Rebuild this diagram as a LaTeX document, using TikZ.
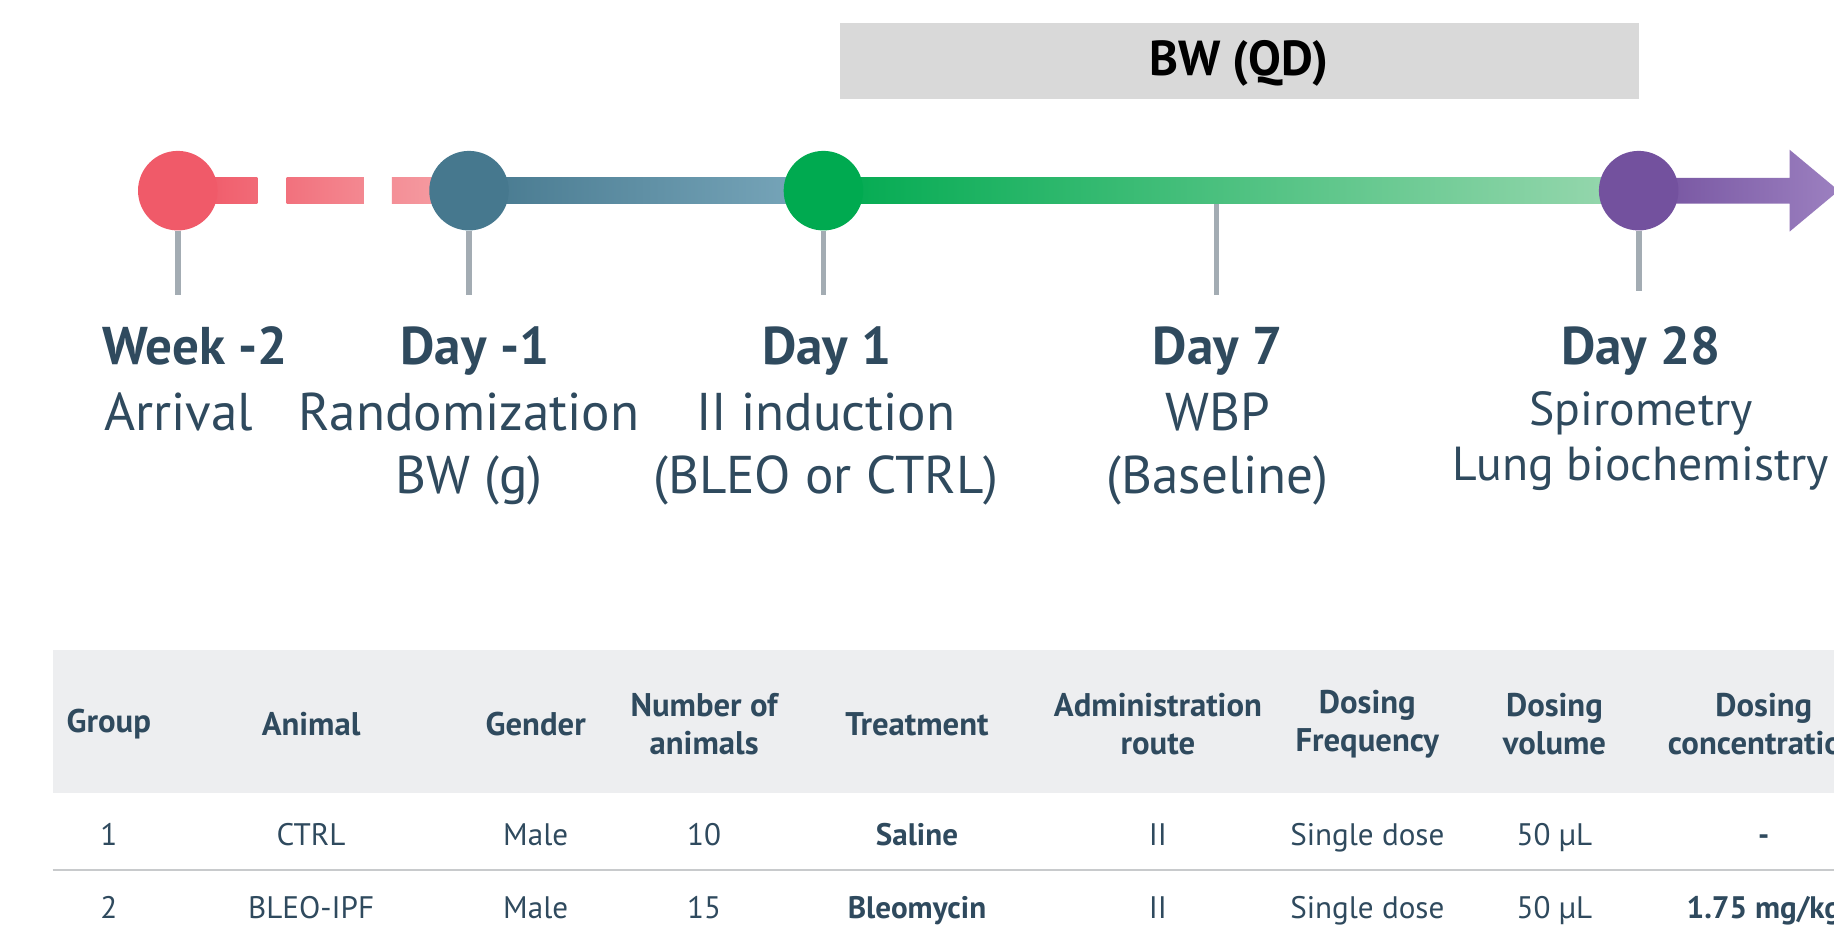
\documentclass[tikz,border=0pt]{standalone}
\usepackage{fontspec}
\setmainfont{PT Sans}
\usetikzlibrary{positioning}

\begin{document}
\begin{tikzpicture}[x=0.5pt, y=-0.5pt, % one unit = one pixel of the layout, y grows downwards
    dot/.style={circle, minimum size=34pt, inner sep=0pt},
    stem/.style={draw=stemgray, line width=2.5pt},
    daytitle/.style={font=\fontsize{22.7}{27}\selectfont\bfseries, text=ink, anchor=base},
    daytext/.style={font=\fontsize{22.7}{27}\selectfont, text=ink, anchor=base},
    smalltext/.style={daytext, font=\fontsize{20.4}{24}\selectfont},
    headcell/.style={font=\fontsize{14}{16.5}\selectfont\bfseries, text=ink, align=center},
    cell/.style={font=\fontsize{13.3}{16}\selectfont, text=ink, anchor=base}]
    % Define colors
    \definecolor{ink}{HTML}{2F4A5E}
    \definecolor{stemgray}{HTML}{A3ACB3}
    \definecolor{boxgray}{HTML}{D9D9D9}
    \definecolor{headgray}{HTML}{EDEEF0}
    \definecolor{rulegray}{HTML}{C8CACC}
    \definecolor{redDot}{HTML}{F05A69}
    \definecolor{redEnd}{HTML}{F59CA2}
    \definecolor{tealDot}{HTML}{46788E}
    \definecolor{tealEnd}{HTML}{7AA8BC}
    \definecolor{greenDot}{HTML}{00AA50}
    \definecolor{greenEnd}{HTML}{9AD8B0}
    \definecolor{purpleDot}{HTML}{73519E}
    \definecolor{purpleEnd}{HTML}{9C80C0}

    % Page frame and crop
    \clip (0,0) rectangle (1568,800);
    \fill[white] (0,0) rectangle (1568,800);

    % BW box on top
    \fill[boxgray] (718,20) rectangle (1401,85);
    \node[font=\fontsize{21}{24}\selectfont\bfseries, text=black] (bw) at (1059,54) {BW (QD)};

    % Dashed red part of the timeline
    \shade[left color=redDot, right color=redDot!75!redEnd] (170,152) rectangle (220,174);
    \shade[left color=redDot!65!redEnd, right color=redDot!30!redEnd] (245,152) rectangle (311,174);
    \shade[left color=redDot!20!redEnd, right color=redEnd] (335,152) rectangle (380,174);

    % Solid parts of the timeline
    \shade[left color=tealDot, right color=tealEnd] (401,152) rectangle (704,174);
    \shade[left color=greenDot, right color=greenEnd] (704,152) rectangle (1401,174);
    \shade[left color=purpleDot, right color=purpleEnd]
        (1401,152) -- (1530,152) -- (1530,128) -- (1572,163) -- (1530,198) -- (1530,174) -- (1401,174) -- cycle;

    % Milestones
    \node[dot, fill=redDot] (wk2) at (152,163) {};
    \node[dot, fill=tealDot] (dm1) at (401,163) {};
    \node[dot, fill=greenDot] (d1) at (704,163) {};
    \node[dot, fill=purpleDot] (d28) at (1401,163) {};
    \coordinate (d7) at (1040,174);

    % Stems under the milestones
    \foreach \n/\len in {wk2/55, dm1/55, d1/55, d7/78, d28/51} {
            \draw[stem] (\n.south) -- ++(0,\len);
        }

    % Milestone labels
    \node[daytitle] (t1) at (167,312) {Week -2};
    \node[daytitle] (t2) at (406,312) {Day -1};
    \node[daytitle] (t3) at (707,312) {Day 1};
    \node[daytitle] (t4) at (1041,312) {Day 7};
    \node[daytitle] (t5) at (1403,312) {Day 28};

    \node[daytext] (a1) at (153,368) {Arrival};
    \node[daytext] (a2) at (401,368) {Randomization};
    \node[daytext] (b2) at (401,422) {BW (g)};
    \node[daytext] (a3) at (706,368) {II induction};
    \node[daytext] (b3) at (706,422) {(BLEO or CTRL)};
    \node[daytext] (a4) at (1041,368) {WBP};
    \node[daytext] (b4) at (1041,422) {(Baseline)};
    \node[smalltext] (a5) at (1403,364) {Spirometry};
    \node[smalltext] (b5) at (1403,411) {Lung biochemistry};

    % Table header
    \fill[headgray] (45,556) rectangle (1580,678);
    \foreach \x/\txt [count=\i] in {93/Group, 266/Animal, 458/Gender, 602/Number of\\animals,
            784/Treatment, 990/Administration\\route, 1169/Dosing\\Frequency,
            1329/Dosing\\volume, 1508/Dosing\\concentration} {
            \node[headcell] (h\i) at (\x,619) {\txt};
        }

    % Table rows
    \foreach \x/\one/\two [count=\i] in {93/1/2, 266/CTRL/BLEO-IPF, 458/Male/Male, 602/10/15,
            784/\textbf{Saline}/\textbf{Bleomycin}, 990/II/II, 1169/Single dose/Single dose,
            1329/50 µL/50 µL, 1508/\textbf{-}/\textbf{1.75 mg/kg}} {
            \node[cell] (ra\i) at (\x,723) {\one};
            \node[cell] (rb\i) at (\x,785) {\two};
        }
    \draw[rulegray, line width=1pt] (45,744) -- (1580,744);

\end{tikzpicture}
\end{document}
